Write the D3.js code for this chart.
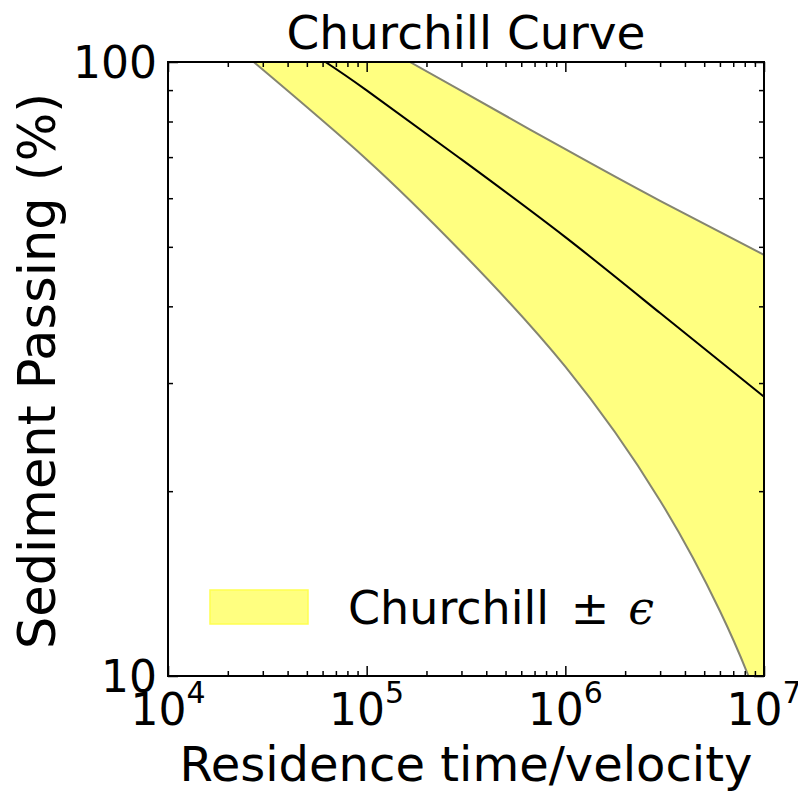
<!DOCTYPE html>
<html>
<head>
<meta charset="utf-8">
<script src="https://d3js.org/d3.v7.min.js"></script>
<style>
  body { margin: 0; background: #fff; }
  text { font-family: "DejaVu Sans", sans-serif; fill: #000; }
</style>
</head>
<body>
<svg id="chart" width="798" height="792"></svg>
<script>
// values (x = residence time/velocity, y = % passing)
var lower_x = [2.7e4, 1e5, 3e5, 1e6, 3e6, 6e6, 8.2e6, 1e7];
var lower_y = [100, 69.4, 49.05, 31.9, 19.3, 12.76, 10.15, 8.61];

var mid_x = [6.2e4, 1e5, 3e5, 1e6, 3e6, 1e7];
var mid_y = [100, 89.9, 69.4, 51.85, 39.0, 28.5];

var upper_x = [1.65e5, 3e5, 1e6, 3e6, 1e7];
var upper_y = [100, 89.7, 72.1, 59.4, 48.5];

var x_major = [1e4, 1e5, 1e6, 1e7];
var x_exp = ["4", "5", "6", "7"];
var y_major = [10, 100];
var y_labels = ["10", "100"];

var svg = d3.select("#chart");
// plot box (note: "top" is taken by window.top, so use other names)
var p_left = 168, p_right = 764, p_top = 62, p_bottom = 676;

var x = d3.scaleLog().domain([1e4, 1e7]).range([p_left, p_right]);
var y = d3.scaleLog().domain([10, 100]).range([p_bottom, p_top]);

// minor ticks 2..9 of every decade
var x_minor = [];
for (var d = 0; d < x_major.length - 1; d++) {
  for (var k = 2; k <= 9; k++) x_minor.push(k * x_major[d]);
}
var y_minor = [];
for (var k = 2; k <= 9; k++) y_minor.push(k * 10);

function pts(xs, ys) {
  return xs.map(function (v, i) { return [v, ys[i]]; });
}
var lower = pts(lower_x, lower_y);
var mid = pts(mid_x, mid_y);
var upper = pts(upper_x, upper_y);

var line = d3.line()
  .x(function (d) { return x(d[0]); })
  .y(function (d) { return y(d[1]); })
  .curve(d3.curveNatural);

svg.append("defs").append("clipPath").attr("id", "plotclip")
  .append("rect")
  .attr("x", p_left).attr("y", p_top)
  .attr("width", p_right - p_left).attr("height", p_bottom - p_top);

var plot = svg.append("g").attr("clip-path", "url(#plotclip)");

// band between lower and upper edge
var band = line(lower) + "L" + line(upper.slice().reverse()).slice(1) + "Z";
plot.append("path")
  .attr("d", band)
  .attr("fill", "#ffff80")
  .attr("stroke", "none");

plot.append("path").attr("d", line(lower))
  .attr("fill", "none").attr("stroke", "#858570").attr("stroke-width", 2);
plot.append("path").attr("d", line(upper))
  .attr("fill", "none").attr("stroke", "#858570").attr("stroke-width", 2);

plot.append("path").attr("d", line(mid))
  .attr("fill", "none").attr("stroke", "#000").attr("stroke-width", 2);

// ticks on all four sides, pointing inward
function ticks(axis, vals, size, pos) {
  svg.append("g")
    .attr("transform", pos)
    .call(axis.tickValues(vals).tickSizeInner(size).tickSizeOuter(0).tickFormat(""))
    .call(function (g) {
      g.select(".domain").remove();
      g.selectAll("line").attr("stroke", "#000").attr("stroke-width", 1.5);
    });
}
ticks(d3.axisBottom(x), x_major, -10, "translate(0," + p_bottom + ")");
ticks(d3.axisBottom(x), x_minor, -5, "translate(0," + p_bottom + ")");
ticks(d3.axisTop(x), x_major, -10, "translate(0," + p_top + ")");
ticks(d3.axisTop(x), x_minor, -5, "translate(0," + p_top + ")");
ticks(d3.axisLeft(y), y_major, -10, "translate(" + p_left + ",0)");
ticks(d3.axisLeft(y), y_minor, -5, "translate(" + p_left + ",0)");
ticks(d3.axisRight(y), y_major, -10, "translate(" + p_right + ",0)");
ticks(d3.axisRight(y), y_minor, -5, "translate(" + p_right + ",0)");

svg.append("rect")
  .attr("x", p_left).attr("y", p_top)
  .attr("width", p_right - p_left).attr("height", p_bottom - p_top)
  .attr("fill", "none").attr("stroke", "#000").attr("stroke-width", 2);

// tick labels
var xl = svg.append("g").selectAll("text")
  .data(x_major)
  .enter().append("text")
  .attr("x", function (d) { return x(d); })
  .attr("y", 725)
  .attr("text-anchor", "middle")
  .style("font-size", "44px");
xl.append("tspan").text("10");
xl.append("tspan")
  .attr("dy", -22)
  .style("font-size", "30px")
  .text(function (d, i) { return x_exp[i]; });

svg.append("g").selectAll("text")
  .data(y_major)
  .enter().append("text")
  .attr("x", 157)
  .attr("y", function (d) { return y(d) + 16; })
  .attr("text-anchor", "end")
  .style("font-size", "44px")
  .text(function (d, i) { return y_labels[i]; });

// title and axis labels
svg.append("text")
  .attr("x", (p_left + p_right) / 2).attr("y", 49)
  .attr("text-anchor", "middle")
  .style("font-size", "47px")
  .text("Churchill Curve");

svg.append("text")
  .attr("x", (p_left + p_right) / 2).attr("y", 781)
  .attr("text-anchor", "middle")
  .style("font-size", "48px")
  .text("Residence time/velocity");

svg.append("text")
  .attr("transform", "translate(55," + ((p_top + p_bottom) / 2 + 2) + ") rotate(-90)")
  .attr("text-anchor", "middle")
  .style("font-size", "51px")
  .text("Sediment Passing (%)");

// legend
svg.append("rect")
  .attr("x", 210).attr("y", 590)
  .attr("width", 98).attr("height", 34)
  .attr("fill", "#ffff80")
  .attr("stroke", "#ffff50").attr("stroke-width", 1.5);

var lg = svg.append("text")
  .attr("x", 348).attr("y", 624)
  .style("font-size", "46px");
lg.append("tspan").text("Churchill ");
lg.append("tspan").attr("dx", 7).text("\u00b1");
lg.append("tspan")
  .attr("dx", 19)
  .style("font-family", "'DejaVu Serif', serif")
  .style("font-style", "italic")
  .text("\u03f5");
</script>
</body>
</html>
